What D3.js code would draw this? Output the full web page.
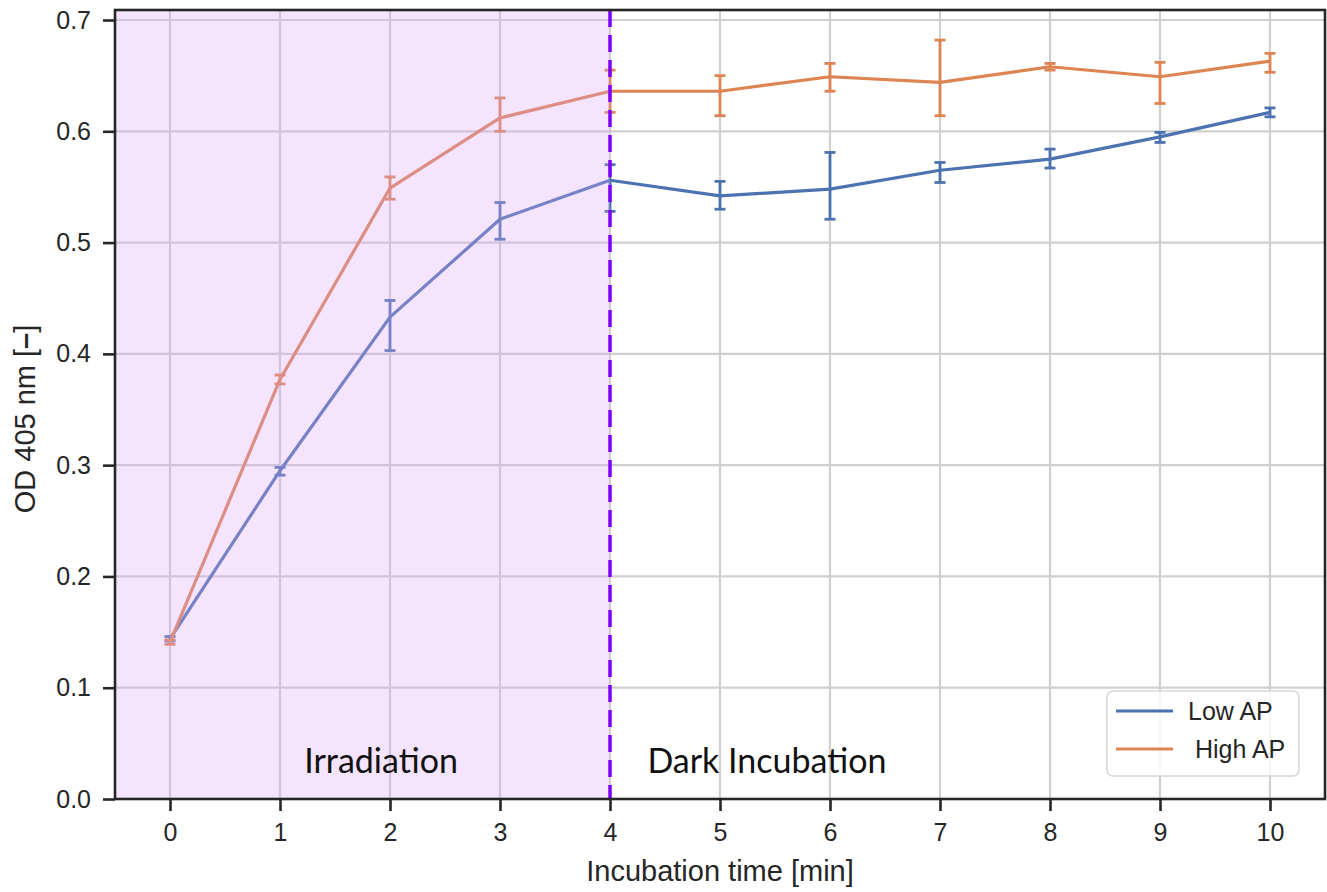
<!DOCTYPE html>
<html>
<head>
<meta charset="utf-8">
<script src="https://cdn.jsdelivr.net/npm/d3@7"></script>
<style>
  body { margin: 0; background: #fff; }
  svg text { font-family: "Liberation Sans", Arial, sans-serif; fill: #262626; }
</style>
</head>
<body>
<div id="chart"></div>
<script>
// Incubation time in minutes
const times = [0, 1, 2, 3, 4, 5, 6, 7, 8, 9, 10];

// Low AP: mean, lower and upper end of the error bar
const lowMean = [0.144, 0.295, 0.433, 0.521, 0.556, 0.542, 0.548, 0.565, 0.575, 0.595, 0.617];
const lowLo   = [0.142, 0.291, 0.403, 0.503, 0.528, 0.530, 0.521, 0.554, 0.567, 0.590, 0.613];
const lowHi   = [0.146, 0.298, 0.448, 0.536, 0.570, 0.555, 0.581, 0.572, 0.584, 0.599, 0.621];

// High AP
const highMean = [0.141, 0.377, 0.549, 0.612, 0.636, 0.636, 0.649, 0.644, 0.658, 0.649, 0.663];
const highLo   = [0.139, 0.373, 0.539, 0.600, 0.617, 0.614, 0.636, 0.614, 0.655, 0.625, 0.653];
const highHi   = [0.143, 0.381, 0.559, 0.630, 0.655, 0.650, 0.661, 0.682, 0.661, 0.662, 0.670];

const seriesNames = ["Low AP", " High AP"];
const xTicks = [0, 1, 2, 3, 4, 5, 6, 7, 8, 9, 10];
const yTicks = [0.0, 0.1, 0.2, 0.3, 0.4, 0.5, 0.6, 0.7];
const irradiationEnd = 4;

const series = [
  { name: seriesNames[0], color: "#4c72b0", mean: lowMean, lo: lowLo, hi: lowHi },
  { name: seriesNames[1], color: "#dd8452", mean: highMean, lo: highLo, hi: highHi }
];

const W = 1327, H = 892;
const margin = { top: 10, right: 2, bottom: 93, left: 115 };
const width = W - margin.left - margin.right;
const height = H - margin.top - margin.bottom;

const svg = d3.select("#chart")
  .append("svg")
  .attr("width", W)
  .attr("height", H);

const g = svg.append("g")
  .attr("transform", `translate(${margin.left}, ${margin.top})`);

const x = d3.scaleLinear().domain([-0.5, 10.5]).range([0, width]);
const y = d3.scaleLinear().domain([0, 0.709]).range([height, 0]);

// grid lines
g.append("g")
  .selectAll("line")
  .data(xTicks)
  .enter()
  .append("line")
  .attr("x1", d => x(d)).attr("x2", d => x(d))
  .attr("y1", 0).attr("y2", height)
  .attr("stroke", "#cfcfcf")
  .attr("stroke-width", 2.2);

g.append("g")
  .selectAll("line")
  .data(yTicks)
  .enter()
  .append("line")
  .attr("x1", 0).attr("x2", width)
  .attr("y1", d => y(d)).attr("y2", d => y(d))
  .attr("stroke", "#cfcfcf")
  .attr("stroke-width", 2.2);

// lines and error bars
const line = d3.line()
  .x((d, i) => x(times[i]))
  .y(d => y(d));

series.forEach(s => {
  g.append("path")
    .datum(s.mean)
    .attr("d", line)
    .attr("fill", "none")
    .attr("stroke", s.color)
    .attr("stroke-width", 3.2)
    .attr("stroke-linejoin", "round");

  const eb = g.append("g")
    .selectAll("g")
    .data(times)
    .enter()
    .append("g")
    .attr("stroke", s.color)
    .attr("stroke-width", 2.8);

  eb.append("line")
    .attr("x1", d => x(d)).attr("x2", d => x(d))
    .attr("y1", (d, i) => y(s.lo[i])).attr("y2", (d, i) => y(s.hi[i]));
  eb.append("line")
    .attr("x1", d => x(d) - 5.5).attr("x2", d => x(d) + 5.5)
    .attr("y1", (d, i) => y(s.lo[i])).attr("y2", (d, i) => y(s.lo[i]));
  eb.append("line")
    .attr("x1", d => x(d) - 5.5).attr("x2", d => x(d) + 5.5)
    .attr("y1", (d, i) => y(s.hi[i])).attr("y2", (d, i) => y(s.hi[i]));
});

// irradiation span drawn over the data (like axvspan)
g.append("rect")
  .attr("x", x(-0.5))
  .attr("y", 0)
  .attr("width", x(irradiationEnd) - x(-0.5))
  .attr("height", height)
  .attr("fill", "rgb(219,164,248)")
  .attr("fill-opacity", 0.3);

// dashed line at end of irradiation
g.append("line")
  .attr("x1", x(irradiationEnd)).attr("x2", x(irradiationEnd))
  .attr("y1", 0).attr("y2", height)
  .attr("stroke", "#7f00ff")
  .attr("stroke-width", 3.5)
  .attr("stroke-dasharray", "17,8");

// phase labels
g.append("text")
  .attr("x", x(1.22))
  .attr("y", y(0.023))
  .style("font-family", "Lato, 'Open Sans', sans-serif")
  .style("font-size", "34px")
  .style("fill", "#111")
  .text("Irradiation");

g.append("text")
  .attr("x", x(4.34))
  .attr("y", y(0.023))
  .style("font-family", "Lato, 'Open Sans', sans-serif")
  .style("font-size", "34px")
  .style("fill", "#111")
  .text("Dark Incubation");

// axes
const xAxis = g.append("g")
  .attr("transform", `translate(0, ${height})`)
  .call(d3.axisBottom(x).tickValues(xTicks).tickFormat(d3.format("d")).tickSizeOuter(0).tickSize(12).tickPadding(12));

const yAxis = g.append("g")
  .call(d3.axisLeft(y).tickValues(yTicks).tickFormat(d3.format(".1f")).tickSizeOuter(0).tickSize(12).tickPadding(12));

[xAxis, yAxis].forEach(a => {
  a.select(".domain").remove();
  a.selectAll(".tick line").attr("stroke", "#262626").attr("stroke-width", 2.6);
  a.selectAll(".tick text").style("font-size", "25px").style("fill", "#262626");
});

// frame
g.append("rect")
  .attr("x", 0).attr("y", 0)
  .attr("width", width).attr("height", height)
  .attr("fill", "none")
  .attr("stroke", "#262626")
  .attr("stroke-width", 2.6);

// axis labels
svg.append("text")
  .attr("x", margin.left + width / 2)
  .attr("y", 881)
  .attr("text-anchor", "middle")
  .style("font-size", "29px")
  .text("Incubation time [min]");

const yLabel = svg.append("text")
  .attr("transform", "translate(35, 419) rotate(-90)")
  .attr("text-anchor", "middle")
  .style("font-size", "29px");
yLabel.append("tspan").text("OD 405 nm [");
yLabel.append("tspan").style("font-weight", "bold").text("–");
yLabel.append("tspan").text("]");

// legend
const legend = svg.append("g").attr("transform", "translate(1107, 691)");
legend.append("rect")
  .attr("width", 192).attr("height", 85)
  .attr("rx", 6)
  .attr("fill", "#fff").attr("fill-opacity", 0.8)
  .attr("stroke", "#d6d6d6").attr("stroke-width", 1.5);

series.forEach((s, i) => {
  const row = legend.append("g").attr("transform", `translate(0, ${20 + i * 38})`);
  row.append("line")
    .attr("x1", 9).attr("x2", 66)
    .attr("stroke", s.color).attr("stroke-width", 3.2);
  row.append("text")
    .attr("x", 81).attr("y", 9)
    .style("font-size", "25px")
    .style("white-space", "pre")
    .attr("xml:space", "preserve")
    .text(s.name);
});
</script>
</body>
</html>
